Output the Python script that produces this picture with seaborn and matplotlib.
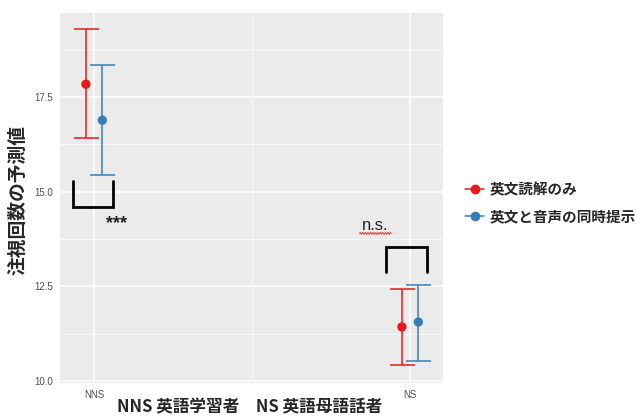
import numpy as np
import pandas as pd
import matplotlib
matplotlib.use("Agg")
import matplotlib.pyplot as plt
from matplotlib.lines import Line2D
import seaborn as sns

# Model-predicted fixation counts with 95% intervals
groups = ["NNS", "NS"]
conditions = ["英文読解のみ", "英文と音声の同時提示"]
pred_mean = {"英文読解のみ": [17.84, 11.43], "英文と音声の同時提示": [16.89, 11.56]}
pred_low = {"英文読解のみ": [16.42, 10.42], "英文と音声の同時提示": [15.44, 10.53]}
pred_high = {"英文読解のみ": [19.30, 12.43], "英文と音声の同時提示": [18.35, 12.53]}
palette = {"英文読解のみ": "#E41A1C", "英文と音声の同時提示": "#377EB8"}
y_ticks = [10.0, 12.5, 15.0, 17.5]

rows = []
for ci, cond in enumerate(conditions):
    for gi, g in enumerate(groups):
        rows.append({"group": g, "gidx": gi, "cond": cond, "cidx": ci,
                     "mean": pred_mean[cond][gi], "low": pred_low[cond][gi],
                     "high": pred_high[cond][gi]})
df = pd.DataFrame(rows)
dodge = 0.026
df["xpos"] = df["gidx"] + np.where(df["cidx"] == 0, -dodge, dodge)

sns.set_theme(style="darkgrid")
plt.rcParams["font.family"] = ["Liberation Sans", "Noto Sans CJK JP", "DejaVu Sans"]

fig = plt.figure(figsize=(6.36, 4.16), dpi=100)
ax = fig.add_axes([60 / 636, 1 - 383 / 416, 383 / 636, 370 / 416])
ax.set_facecolor("#EBEBEB")

# error bars first, then points on top
for cond in conditions:
    sub = df[df["cond"] == cond]
    ax.errorbar(sub["xpos"], sub["mean"],
                yerr=[sub["mean"] - sub["low"], sub["high"] - sub["mean"]],
                fmt="none", ecolor=palette[cond], elinewidth=1.1,
                capsize=9, capthick=1.1, zorder=3)
sns.scatterplot(data=df, x="xpos", y="mean", hue="cond", palette=palette,
                s=45, edgecolor="none", legend=False, ax=ax, zorder=4)

ax.set_xlim(-0.108, 1.104)
ax.set_ylim(9.95, 19.72)
ax.set_xticks([0, 1])
ax.set_xticklabels(groups)
ax.set_yticks(y_ticks)
ax.set_yticklabels([f"{v:.1f}" for v in y_ticks])
ax.set_xticks([0.5], minor=True)
ax.set_yticks([11.25, 13.75, 16.25, 18.75], minor=True)
ax.grid(which="major", color="white", linewidth=1.1)
ax.grid(which="minor", color="white", linewidth=0.5)
for s in ax.spines.values():
    s.set_visible(False)
ax.tick_params(axis="both", which="major", length=3, width=0.8, color="#333333",
               labelsize=7, labelcolor="#4D4D4D", pad=2)
ax.tick_params(axis="both", which="minor", length=0)
ax.set_xlabel("")
ax.set_ylabel("")

# axis titles
fig.text(250 / 636, 1 - 407 / 416, "NNS 英語学習者　NS 英語母語話者", fontsize=12,
         fontweight="bold", family=["Noto Sans CJK JP"], ha="center", va="center")
fig.text(18 / 636, 1 - 200 / 416, "注視回数の予測値", fontsize=13.5,
         fontweight="bold", family=["Noto Sans CJK JP"], ha="center", va="center",
         rotation=90)

# significance brackets
ax.plot([-0.066, -0.066, 0.06, 0.06], [15.28, 14.59, 14.59, 15.28],
        color="black", linewidth=2, solid_joinstyle="miter", zorder=5)
ax.text(0.07, 14.15, "***", fontsize=13, fontweight="bold", ha="center",
        va="center", color="#222222")
ax.plot([0.924, 0.924, 1.054, 1.054], [12.88, 13.54, 13.54, 12.88],
        color="black", linewidth=2, solid_joinstyle="miter", zorder=5)
ax.text(0.89, 14.1, "n.s.", fontsize=12, ha="center", va="center", color="#222222")
wx = np.linspace(0.84, 0.94, 60)
ax.plot(wx, 13.9 + 0.025 * np.sin((wx - 0.84) * 2 * np.pi / 0.008),
        color="#E41A1C", linewidth=0.6)

# legend
handles = [Line2D([0], [0], color=palette[c], marker="o", markersize=6,
                  linewidth=1.1) for c in conditions]
leg = fig.legend(handles, conditions, loc="center left",
                 bbox_to_anchor=(452 / 636, 1 - 203 / 416), frameon=False,
                 prop={"family": ["Noto Sans CJK JP"], "weight": "bold", "size": 10.5},
                 handlelength=1.3, handletextpad=0.4, labelspacing=0.75)

fig.savefig("out.png", dpi=100)
